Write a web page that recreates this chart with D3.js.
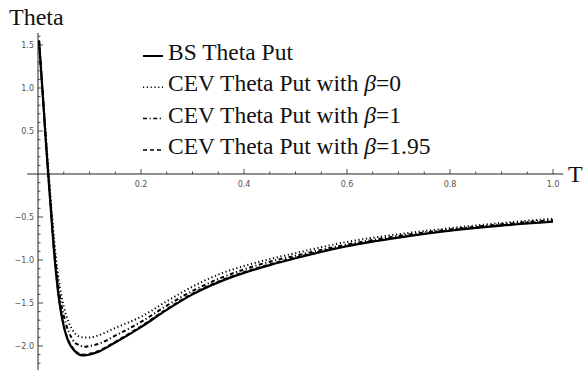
<!DOCTYPE html>
<html><head><meta charset="utf-8">
<script src="https://cdn.jsdelivr.net/npm/d3@7"></script>
<style>body{margin:0;background:#fff;} svg{display:block;}</style>
</head><body>
<svg id="chart" width="585" height="370"></svg>
<script>
// ---- data ----
const T = [0.002,0.006,0.010,0.015,0.020,0.025,0.030,0.035,0.040,0.045,0.050,0.055,0.060,0.070,0.080,0.090,0.100,0.120,0.150,0.200,0.250,0.300,0.350,0.400,0.450,0.500,0.600,0.700,0.800,0.900,1.000];
const bsTheta = [1.55,1.20,0.85,0.40,-0.02,-0.42,-0.82,-1.15,-1.42,-1.62,-1.77,-1.88,-1.96,-2.05,-2.10,-2.11,-2.10,-2.06,-1.96,-1.78,-1.58,-1.40,-1.26,-1.15,-1.06,-0.98,-0.84,-0.74,-0.66,-0.60,-0.555];
const cevBeta0 = [1.55,1.22,0.88,0.46,0.06,-0.32,-0.68,-0.98,-1.22,-1.40,-1.54,-1.65,-1.73,-1.84,-1.89,-1.90,-1.90,-1.87,-1.79,-1.66,-1.48,-1.31,-1.17,-1.07,-0.99,-0.92,-0.79,-0.70,-0.63,-0.57,-0.52];
const cevBeta1 = [1.55,1.21,0.87,0.43,0.02,-0.37,-0.75,-1.07,-1.32,-1.51,-1.65,-1.76,-1.84,-1.95,-1.99,-2.01,-2.00,-1.97,-1.88,-1.72,-1.53,-1.36,-1.22,-1.11,-1.02,-0.95,-0.82,-0.72,-0.645,-0.585,-0.535];
const cevBeta195 = [1.55,1.20,0.85,0.40,-0.02,-0.41,-0.81,-1.14,-1.41,-1.61,-1.76,-1.87,-1.95,-2.04,-2.09,-2.10,-2.09,-2.05,-1.95,-1.77,-1.57,-1.39,-1.25,-1.14,-1.05,-0.97,-0.835,-0.735,-0.655,-0.595,-0.55];
const seriesNames = ["BS Theta Put","CEV Theta Put with \u03B2=0","CEV Theta Put with \u03B2=1","CEV Theta Put with \u03B2=1.95"];
const xTickLabels = [0.2,0.4,0.6,0.8,1.0];
const yTickLabels = [-2.0,-1.5,-1.0,-0.5,0.5,1.0,1.5];

// ---- layout ----
const svg = d3.select("#chart");
const x = d3.scaleLinear().domain([0,1]).range([38,553]);
const y = d3.scaleLinear().domain([0,1.5]).range([174,45]);
const axisColor = "#222";
const labelFont = "'DejaVu Sans', sans-serif";
const serif = "'Liberation Serif', 'Times New Roman', serif";

// x axis line
svg.append("line").attr("x1",x(-0.021)).attr("x2",x(1.02)).attr("y1",y(0)).attr("y2",y(0))
  .attr("stroke",axisColor).attr("stroke-width",1);
// y axis line
svg.append("line").attr("x1",x(0)).attr("x2",x(0)).attr("y1",y(1.64)).attr("y2",370)
  .attr("stroke",axisColor).attr("stroke-width",1);

// x ticks (pointing up), minor every 0.05
const xMinor = d3.range(1,21).map(i=>i*0.05);
svg.append("g").selectAll("line").data(xMinor).join("line")
  .attr("x1",d=>x(d)).attr("x2",d=>x(d))
  .attr("y1",y(0)).attr("y2",d=>Math.abs(d*5-Math.round(d*5))<1e-6 ? y(0)-5 : y(0)-2.5)
  .attr("stroke",axisColor).attr("stroke-width",0.8);
svg.append("g").selectAll("text").data(xTickLabels).join("text")
  .attr("x",d=>x(d)).attr("y",y(0)+13).attr("text-anchor","middle")
  .attr("font-family",labelFont).attr("font-size",8).attr("fill","#555")
  .text(d=>d.toFixed(1));

// y ticks (pointing right), minor every 0.1
const yMinor = d3.range(-22,17).filter(i=>i!==0).map(i=>i*0.1);
svg.append("g").selectAll("line").data(yMinor).join("line")
  .attr("y1",d=>y(d)).attr("y2",d=>y(d))
  .attr("x1",x(0)).attr("x2",d=>Math.abs(d*2-Math.round(d*2))<1e-6 ? x(0)+5 : x(0)+2.5)
  .attr("stroke",axisColor).attr("stroke-width",0.8);
svg.append("g").selectAll("text").data(yTickLabels).join("text")
  .attr("x",x(0)-4).attr("y",d=>y(d)+3).attr("text-anchor","end")
  .attr("font-family",labelFont).attr("font-size",8).attr("fill","#555")
  .text(d=>(d<0?"\u2212":"")+Math.abs(d).toFixed(1));

// axis labels
svg.append("text").attr("x",9).attr("y",25).attr("font-family",serif).attr("font-size",24).attr("fill","#111").text("Theta");
svg.append("text").attr("x",568).attr("y",182).attr("font-family",serif).attr("font-size",24).attr("fill","#111").text("T");

// curves
const styles = [
  {data:bsTheta, dash:null, w:2.2},
  {data:cevBeta0, dash:"1.2,2.6", w:2},
  {data:cevBeta1, dash:"4,2.5,1.2,2.5", w:2},
  {data:cevBeta195, dash:"4,3", w:1.8}
];
const line = d3.line().x(d=>x(d[0])).y(d=>y(d[1])).curve(d3.curveMonotoneX);
[1,2,3,0].forEach(i=>{
  const s = styles[i];
  svg.append("path").datum(T.map((t,j)=>[t,s.data[j]]))
    .attr("d",line).attr("fill","none").attr("stroke","#000")
    .attr("stroke-width",s.w).attr("stroke-dasharray",s.dash);
});

// legend
const lg = svg.append("g");
seriesNames.forEach((name,i)=>{
  const by = 60 + i*31.3;
  lg.append("line").attr("x1",143).attr("x2",163).attr("y1",by-4).attr("y2",by-4)
    .attr("stroke","#000").attr("stroke-width",i===0?2:1.5).attr("stroke-dasharray",styles[i].dash);
  const t = lg.append("text").attr("x",168).attr("y",by).attr("font-family",serif)
    .attr("font-size",23.5).attr("fill","#111");
  if(name.includes("\u03B2")){
    const parts = name.split("\u03B2");
    t.append("tspan").text(parts[0]);
    t.append("tspan").attr("font-style","italic").text("\u03B2");
    t.append("tspan").text(parts[1]);
  } else t.text(name);
});
</script>
</body></html>
